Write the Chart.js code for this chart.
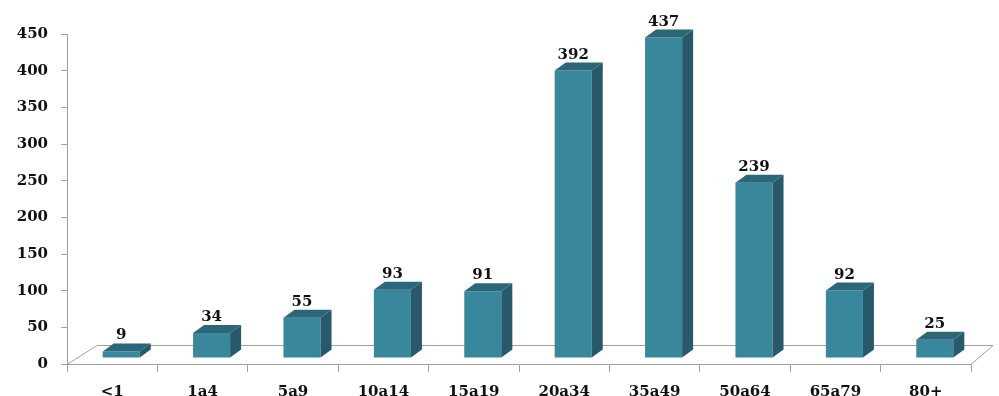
<!DOCTYPE html>
<html>
<head>
<meta charset="utf-8">
<script src="https://cdn.jsdelivr.net/npm/chart.js@4/dist/chart.umd.min.js"></script>
<style>
  html, body { margin: 0; padding: 0; background: #fff; }
  #wrap { width: 999px; height: 396px; }
</style>
</head>
<body>
<div id="wrap"><canvas id="chart" width="999" height="396"></canvas></div>
<script>
// --- Data ---
const ageGroups = ['<1', '1a4', '5a9', '10a14', '15a19', '20a34', '35a49', '50a64', '65a79', '80+'];
const caseCounts = [9, 34, 55, 93, 91, 392, 437, 239, 92, 25];
const yTicks = [0, 50, 100, 150, 200, 250, 300, 350, 400, 450];

// 3D look settings
const shiftX = 9, shiftY = -6;       // bars sit a bit back on the floor
const depthX = 11, depthY = 8;        // bar depth
const floorLeft = 30, floorRight = 22, floorDepth = 19;

const FONT = "'DejaVu Serif', serif";

// floor + bar sides/tops + value labels
const bars3d = {
    id: 'bars3d',
    beforeDatasetsDraw(chart) {
        const ctx = chart.ctx;
        const a = chart.chartArea;
        ctx.save();
        ctx.strokeStyle = '#a0a0a0';
        ctx.lineWidth = 1;
        ctx.beginPath();
        ctx.moveTo(a.left, a.bottom + 0.5);
        ctx.lineTo(a.left + floorLeft, a.bottom - floorDepth + 0.5);
        ctx.lineTo(a.right + floorRight, a.bottom - floorDepth + 0.5);
        ctx.lineTo(a.right, a.bottom + 0.5);
        ctx.stroke();
        ctx.restore();

        ctx.save();
        ctx.translate(shiftX, shiftY);
    },
    afterDatasetsDraw(chart) {
        const ctx = chart.ctx;
        const meta = chart.getDatasetMeta(0);
        meta.data.forEach((bar, i) => {
            const p = bar.getProps(['x', 'y', 'base', 'width'], true);
            const l = p.x - p.width / 2, r = p.x + p.width / 2;
            // side
            ctx.fillStyle = '#27596a';
            ctx.beginPath();
            ctx.moveTo(r, p.y);
            ctx.lineTo(r + depthX, p.y - depthY);
            ctx.lineTo(r + depthX, p.base - depthY);
            ctx.lineTo(r, p.base);
            ctx.closePath();
            ctx.fill();
            // top
            ctx.fillStyle = '#2c6779';
            ctx.beginPath();
            ctx.moveTo(l, p.y);
            ctx.lineTo(l + depthX, p.y - depthY);
            ctx.lineTo(r + depthX, p.y - depthY);
            ctx.lineTo(r, p.y);
            ctx.closePath();
            ctx.fill();
            // value
            ctx.fillStyle = '#111';
            ctx.font = 'bold 15px ' + FONT;
            ctx.textAlign = 'center';
            ctx.textBaseline = 'alphabetic';
            ctx.fillText(String(caseCounts[i]), p.x, p.y - depthY - 4);
        });
        ctx.restore();
    }
};

const ctx = document.getElementById('chart');
new Chart(ctx, {
    type: 'bar',
    data: {
        labels: ageGroups,
        datasets: [{
            data: caseCounts,
            backgroundColor: '#38879d',
            borderWidth: 0,
            barPercentage: 0.41,
            categoryPercentage: 1
        }]
    },
    options: {
        responsive: false,
        animation: false,
        layout: { padding: { top: 34, right: 28, left: 0, bottom: 0 } },
        plugins: {
            legend: { display: false },
            tooltip: { enabled: false }
        },
        scales: {
            x: {
                grid: { display: true, drawOnChartArea: false, tickLength: 8, color: '#a0a0a0' },
                border: { display: true, color: '#a0a0a0' },
                ticks: { color: '#111', font: { family: FONT, size: 15, weight: 'bold' }, padding: 11, maxRotation: 0 },
                afterFit(scale) { scale.height = 32; }
            },
            y: {
                min: 0,
                max: 450,
                afterBuildTicks(scale) { scale.ticks = yTicks.map(v => ({ value: v })); },
                grid: { display: true, drawOnChartArea: false, tickLength: 6, color: '#a0a0a0' },
                border: { display: true, color: '#a0a0a0' },
                ticks: { color: '#111', font: { family: FONT, size: 15, weight: 'bold' }, padding: 13 },
                afterFit(scale) { scale.width = 67; }
            }
        }
    },
    plugins: [bars3d]
});
</script>
</body>
</html>
